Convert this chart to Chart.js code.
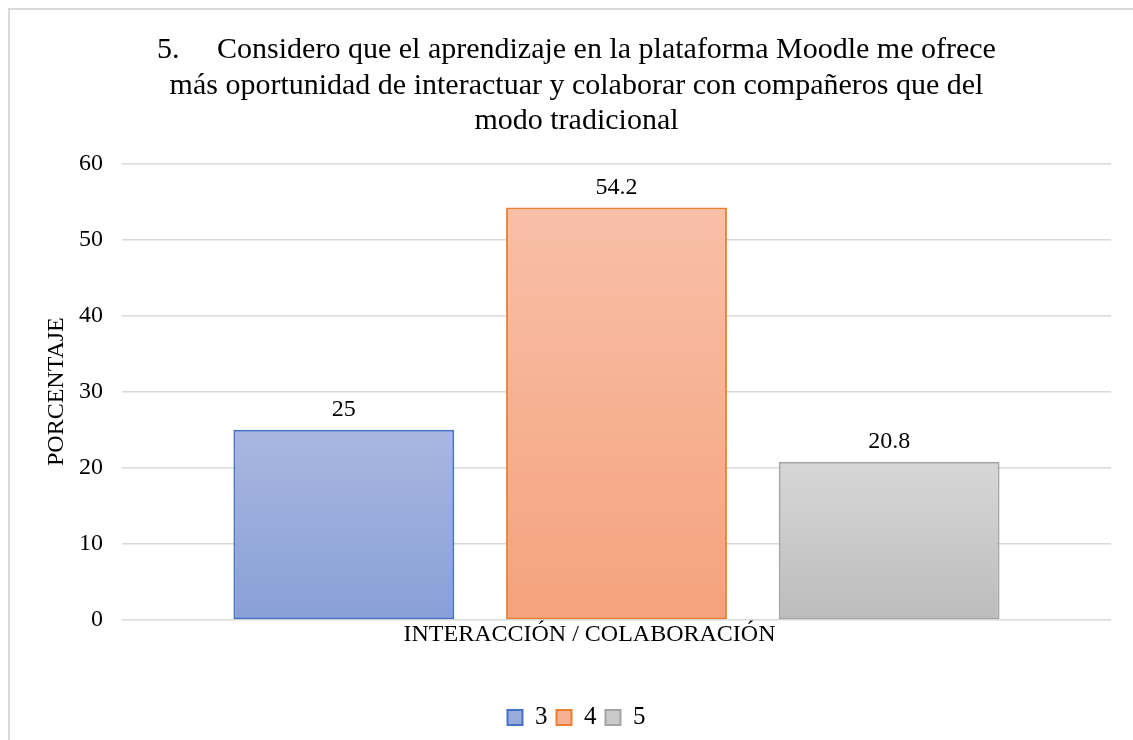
<!DOCTYPE html>
<html>
<head>
<meta charset="utf-8">
<script src="https://cdn.jsdelivr.net/npm/chart.js@4/dist/chart.umd.min.js"></script>
<style>
  body { margin: 0; background: #fff; overflow: hidden; }
  #wrap { position: relative; width: 1133px; height: 740px; }
  #frame { position: absolute; left: 8px; top: 8px; width: 1140px; height: 750px; border: 2px solid #d9d9d9; box-sizing: border-box; }
  canvas { position: absolute; left: 0; top: 0; }
</style>
</head>
<body>
<div id="wrap">
  <div id="frame"></div>
  <canvas id="chart" width="1133" height="740"></canvas>
</div>
<script>
const categories = ['INTERACCIÓN / COLABORACIÓN'];
const seriesNames = ['3', '4', '5'];
const seriesValues = [25, 54.2, 20.8];
const yTicks = [0, 10, 20, 30, 40, 50, 60];

// top / bottom gradient colours and border per series
const fillTop = ['#a9b7e0', '#f8bfa8', '#d7d7d7'];
const fillBottom = ['#889fd7', '#f5a27d', '#bcbcbc'];
const borders = ['#4472c4', '#ed7d31', '#a5a5a5'];
const legendFill = ['#98abdb', '#f6b092', '#c9c9c9'];

const serif = "'Liberation Serif', 'Times New Roman', serif";

function barGradient(i) {
    return function (ctx) {
        const chart = ctx.chart;
        if (!chart.chartArea) return fillBottom[i];
        const y = chart.scales.y;
        const top = y.getPixelForValue(seriesValues[i]);
        const bottom = y.getPixelForValue(0);
        const g = chart.ctx.createLinearGradient(0, top, 0, bottom);
        g.addColorStop(0, fillTop[i]);
        g.addColorStop(1, fillBottom[i]);
        return g;
    };
}

// value labels above each bar
const valueLabels = {
    id: 'valueLabels',
    afterDatasetsDraw(chart) {
        const c = chart.ctx;
        c.save();
        c.font = '24px ' + serif;
        c.fillStyle = '#000';
        c.textAlign = 'center';
        c.textBaseline = 'middle';
        chart.data.datasets.forEach((ds, i) => {
            chart.getDatasetMeta(i).data.forEach((bar, j) => {
                c.fillText(String(ds.data[j]), bar.x, bar.y - 20);
            });
        });
        c.restore();
    }
};

new Chart(document.getElementById('chart').getContext('2d'), {
    type: 'bar',
    data: {
        labels: categories,
        datasets: seriesNames.map((name, i) => ({
            label: name,
            data: [seriesValues[i]],
            backgroundColor: barGradient(i),
            borderColor: borders[i],
            borderWidth: 2,
            borderSkipped: false,
            categoryPercentage: 0.827,
            barPercentage: 0.81
        }))
    },
    options: {
        responsive: false,
        animation: false,
        layout: { padding: { left: 42, right: 22, top: 33, bottom: 0 } },
        scales: {
            x: {
                grid: { display: false },
                border: { display: false },
                ticks: { font: { family: serif, size: 24 }, color: '#000', padding: -8, labelOffset: -27 },
                afterFit: s => { s.height = 76; }
            },
            y: {
                min: 0,
                max: 60,
                afterBuildTicks: axis => { axis.ticks = yTicks.map(v => ({ value: v })); },
                afterFit: s => { s.width = 80; },
                grid: { color: '#d9d9d9', lineWidth: 1.5, drawTicks: false },
                border: { display: false },
                ticks: { font: { family: serif, size: 24 }, color: '#000', padding: 19 },
                title: { display: true, text: 'PORCENTAJE', font: { family: serif, size: 24 }, color: '#000', padding: { top: 0, bottom: 8 } }
            }
        },
        plugins: {
            title: {
                display: true,
                text: [
                    '5.     Considero que el aprendizaje en la plataforma Moodle me ofrece',
                    'más oportunidad de interactuar y colaborar con compañeros que del',
                    'modo tradicional'
                ],
                font: { family: serif, size: 30, weight: 'normal', lineHeight: 1.17 },
                color: '#000',
                padding: { top: 0, bottom: 25 }
            },
            legend: {
                position: 'bottom',
                labels: {
                    font: { family: serif, size: 25 },
                    color: '#000',
                    boxWidth: 15,
                    boxHeight: 15,
                    padding: 9,
                    generateLabels: () => seriesNames.map((name, i) => ({
                        text: name,
                        fillStyle: legendFill[i],
                        strokeStyle: borders[i],
                        lineWidth: 2,
                        datasetIndex: i
                    }))
                }
            },
            tooltip: { enabled: false }
        }
    },
    plugins: [valueLabels]
});
</script>
</body>
</html>
